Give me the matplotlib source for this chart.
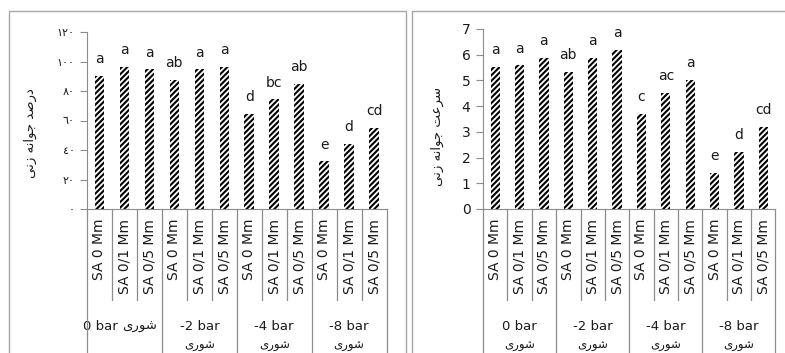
import matplotlib
matplotlib.use("Agg")
import matplotlib.pyplot as plt
from matplotlib.patches import Rectangle
from matplotlib.lines import Line2D
from matplotlib.transforms import blended_transform_factory

# treatments on the x axis (3 salicylic acid levels inside 4 salinity groups)
sa_levels = ['SA 0 Mm', 'SA 0/1 Mm', 'SA 0/5 Mm']
salinity = ['0 bar', '-2 bar', '-4 bar', '-8 bar']
categories = sa_levels * len(salinity)

# germination percentage and its mean-comparison letters
germ_pct = [90.2, 96.5, 94.7, 87.5, 94.7, 96.5, 64.4, 74.4, 84.7, 32.3, 44.0, 54.9]
germ_pct_letters = ['a', 'a', 'a', 'ab', 'a', 'a', 'd', 'bc', 'ab', 'e', 'd', 'cd']
pct_ticks = [0, 20, 40, 60, 80, 100, 120]
pct_tick_labels = ['٠', '٢٠', '٤٠', '٦٠', '٨٠', '١٠٠', '١٢٠']

# germination rate and its letters
germ_rate = [5.54, 5.59, 5.89, 5.33, 5.89, 6.19, 3.70, 4.51, 5.02, 1.41, 2.22, 3.19]
germ_rate_letters = ['a', 'a', 'a', 'ab', 'a', 'a', 'c', 'ac', 'a', 'e', 'd', 'cd']
rate_ticks = [0, 1, 2, 3, 4, 5, 6, 7]


def farsi(shaped):
    # strings are typed in joined presentation forms; reverse for LTR drawing
    return shaped[::-1]


SHOURI = farsi('\uFEB7\uFEEE\uFEAD\uFEEF')
PCT_LABEL = farsi('\uFEA9\uFEAD\uFEBB\uFEAA \uFE9F\uFEEE\uFE8D\uFEE7\uFEEA \uFEAF\uFEE7\uFEF0')
RATE_LABEL = farsi('\uFEB3\uFEAE\uFECB\uFE96 \uFE9F\uFEEE\uFE8D\uFEE7\uFEEA \uFEAF\uFEE7\uFEF0')

plt.rcParams['font.family'] = ['DejaVu Sans']
plt.rcParams['hatch.linewidth'] = 1.5
plt.rcParams['hatch.color'] = 'black'

W, H = 785, 353
fig = plt.figure(figsize=(W / 100, H / 100), dpi=100)
TXT = '#1a1a1a'
GRID = '#8c8c8c'


def px(x, y):
    # pixel position from top-left -> figure fraction
    return x / W, (H - y) / H


def draw_panel(ax, values, letters, ticks, tick_labels, ylabel, ylabel_x, ylabel_y,
               tick_size, merged_first):
    n = len(values)
    xs = list(range(n))
    ax.bar(xs, values, width=0.38, color='white', edgecolor='black',
           hatch='//////', linewidth=0)
    for x, v, lt in zip(xs, values, letters):
        ax.annotate(lt, (x, v), xytext=(0, 7), textcoords='offset points',
                    ha='center', va='bottom', fontsize=10, color=TXT)
    ax.set_xlim(-0.5, n - 0.5)
    ax.set_ylim(ticks[0], ticks[-1])
    ax.set_yticks(ticks)
    ax.set_yticklabels(tick_labels, fontsize=tick_size, color=TXT)
    ax.tick_params(axis='y', length=5, color=GRID, pad=4)
    ax.set_xticks(xs)
    ax.set_xticklabels(categories, rotation=90, fontsize=10, color=TXT, va='top')
    ax.tick_params(axis='x', length=0, pad=7)
    for s in ['top', 'right']:
        ax.spines[s].set_visible(False)
    ax.spines['left'].set_color(GRID)
    ax.spines['bottom'].set_color(GRID)
    ax.patch.set_alpha(0)

    # category dividers under the axis, longer ones between salinity groups
    tr = blended_transform_factory(ax.transData, fig.transFigure)
    y_axis = (H - 209) / H
    y_short = (H - 300) / H
    for k in range(n + 1):
        x = k - 0.5
        y_end = -0.05 if k % 3 == 0 else y_short
        fig.add_artist(Line2D([x, x], [y_axis, y_end], transform=tr,
                              color=GRID, linewidth=0.9))
    y_name = (H - 330) / H
    for g, name in enumerate(salinity):
        cx = 3 * g + 1
        if g == 0 and merged_first:
            ax.annotate(name, (cx, y_name), xycoords=tr, xytext=(-5, 0),
                        textcoords='offset points', ha='right', va='baseline',
                        fontsize=9.5, color=TXT)
            ax.annotate(SHOURI, (cx, y_name), xycoords=tr, xytext=(-2, 0),
                        textcoords='offset points', ha='left', va='baseline',
                        fontsize=9.5, color=TXT)
        else:
            ax.text(cx, y_name, name, transform=tr, ha='center',
                    va='baseline', fontsize=9.5, color=TXT)
            ax.text(cx, (H - 346) / H, SHOURI, transform=tr, ha='center',
                    va='center', fontsize=8.5, color=TXT)

    lx, ly = px(ylabel_x, ylabel_y)
    fig.text(lx, ly, ylabel, rotation=90, ha='center', va='center',
             fontsize=9.5, color=TXT)


# chart area frames
for x0, x1 in [(9, 406), (412, 800)]:
    fx0, fy0 = px(x0, 11)
    fig.add_artist(Rectangle((fx0, -0.1), (x1 - x0) / W, fy0 + 0.1,
                             transform=fig.transFigure, fill=False,
                             edgecolor='#a6a6a6', linewidth=1.0))

l0, b0 = px(87, 209)
ax1 = fig.add_axes([l0, b0, (386.5 - 87) / W, 177 / H])
draw_panel(ax1, germ_pct, germ_pct_letters, pct_ticks, pct_tick_labels,
           PCT_LABEL, 30, 133, 8, True)

l1, b1 = px(483, 209)
ax2 = fig.add_axes([l1, b1, (775.5 - 483) / W, 180 / H])
draw_panel(ax2, germ_rate, germ_rate_letters, rate_ticks,
           [str(t) for t in rate_ticks], RATE_LABEL, 437, 137, 10, False)

fig.savefig('out.png', dpi=100)
